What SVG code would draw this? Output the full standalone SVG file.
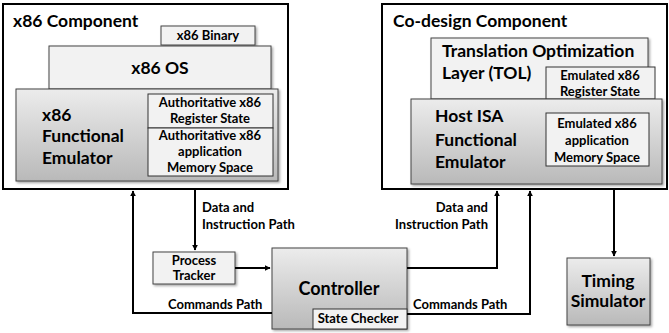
<svg xmlns="http://www.w3.org/2000/svg" width="669" height="333" viewBox="0 0 669 333">
<defs>
<linearGradient id="g" x1="0" y1="0" x2="0" y2="1">
<stop offset="0" stop-color="#ececec"/>
<stop offset="1" stop-color="#b9b9b9"/>
</linearGradient>
<filter id="sh" x="-10%" y="-10%" width="130%" height="130%">
<feDropShadow dx="1.5" dy="1.5" stdDeviation="1" flood-color="#000" flood-opacity="0.35"/>
</filter>
<marker id="ah" viewBox="0 0 10 10" refX="9" refY="5" markerWidth="6" markerHeight="6" orient="auto" markerUnits="userSpaceOnUse">
<path d="M0,0 L10,5 L0,10 z" fill="#000"/>
</marker>
</defs>
<style>
text{font-family:Lato,"Open Sans","Liberation Sans",sans-serif;font-weight:bold;fill:#000}
.outer{fill:#fff;stroke:#000;stroke-width:2}
.light{fill:#f2f2f2;stroke:#444;stroke-width:1;filter:url(#sh)}
.grad{fill:url(#g);stroke:#444;stroke-width:1;filter:url(#sh)}
.inner{fill:#f2f2f2;stroke:#333;stroke-width:1}
.t11{font-size:13px}
.t12{font-size:13px}
.t16{font-size:17.5px}
.t17{font-size:17.5px}
.m{text-anchor:middle}
.e{text-anchor:end}
.c{fill:none;stroke:#000;stroke-width:2}
</style>
<g id="x86-component">
<rect class="outer" x="3" y="4" width="285" height="185"/>
<text class="t16" x="13" y="27">x86 Component</text>
</g>
<g id="x86-binary">
<rect class="light" x="161" y="26" width="94" height="19"/>
<text class="t11 m" x="208" y="40">x86 Binary</text>
</g>
<g id="x86-os">
<rect class="light" x="49" y="46" width="222" height="43"/>
<text class="t17 m" x="160" y="74">x86 OS</text>
</g>
<g id="x86-emulator">
<rect class="grad" x="16" y="89" width="262" height="92"/>
<text class="t17" x="42" y="121">x86</text>
<text class="t17" x="42" y="142">Functional</text>
<text class="t17" x="42" y="164">Emulator</text>
</g>
<g id="auth-register">
<rect class="inner" x="148" y="94" width="125" height="34"/>
<text class="t11 m" x="210" y="107">Authoritative x86</text>
<text class="t11 m" x="210" y="123">Register State</text>
</g>
<g id="auth-memory">
<rect class="inner" x="148" y="128" width="125" height="48"/>
<text class="t11 m" x="210" y="140">Authoritative x86</text>
<text class="t11 m" x="210" y="156">application</text>
<text class="t11 m" x="210" y="172">Memory Space</text>
</g>
<g id="codesign-component">
<rect class="outer" x="382" y="4" width="285" height="185"/>
<text class="t16" x="393" y="27">Co-design Component</text>
</g>
<g id="tol">
<rect class="light" x="431" y="38" width="217" height="61"/>
<text class="t17" x="442" y="57">Translation Optimization</text>
<text class="t17" x="442" y="79">Layer (TOL)</text>
</g>
<g id="emu-register">
<rect class="inner" x="546" y="67" width="109" height="32"/>
<text class="t11 m" x="600" y="80">Emulated x86</text>
<text class="t11 m" x="600" y="96">Register State</text>
</g>
<g id="host-emulator">
<rect class="grad" x="411" y="99" width="251" height="85"/>
<text class="t17" x="435" y="122">Host ISA</text>
<text class="t17" x="435" y="146">Functional</text>
<text class="t17" x="435" y="168">Emulator</text>
</g>
<g id="emu-memory">
<rect class="inner" x="546" y="113" width="103" height="53"/>
<text class="t11 m" x="597" y="128">Emulated x86</text>
<text class="t11 m" x="597" y="145">application</text>
<text class="t11 m" x="597" y="162">Memory Space</text>
</g>
<g id="process-tracker">
<rect class="light" x="153" y="252" width="82" height="32"/>
<text class="t12 m" x="194" y="265">Process</text>
<text class="t12 m" x="194" y="280">Tracker</text>
</g>
<g id="controller">
<rect class="grad" x="272" y="248" width="135" height="81"/>
<text class="m" style="font-size:18px" x="339" y="295">Controller</text>
</g>
<g id="state-checker">
<rect class="inner" x="313" y="309" width="94" height="20"/>
<text class="t12 m" x="358" y="323">State Checker</text>
</g>
<g id="timing-simulator">
<rect class="grad" x="567" y="258" width="83" height="67"/>
<text class="t17 m" x="608" y="287">Timing</text>
<text class="t17 m" x="608" y="307">Simulator</text>
</g>
<g id="connectors">
<path class="c" d="M272,313 H133 V191" marker-end="url(#ah)"/>
<path class="c" d="M195,190 V250" marker-end="url(#ah)"/>
<path class="c" d="M235,268 H270" marker-end="url(#ah)"/>
<path class="c" d="M407,268 H497 V191" marker-end="url(#ah)"/>
<path class="c" d="M407,314 H530 V191" marker-end="url(#ah)"/>
<path class="c" d="M614,190 V256" marker-end="url(#ah)"/>
<text class="t12" x="202" y="212">Data and</text>
<text class="t12" x="202" y="229">Instruction Path</text>
<text class="t12 e" x="488" y="212">Data and</text>
<text class="t12 e" x="488" y="229">Instruction Path</text>
<text class="t12" x="168" y="309">Commands Path</text>
<text class="t12" x="413" y="309">Commands Path</text>
</g>
</svg>
